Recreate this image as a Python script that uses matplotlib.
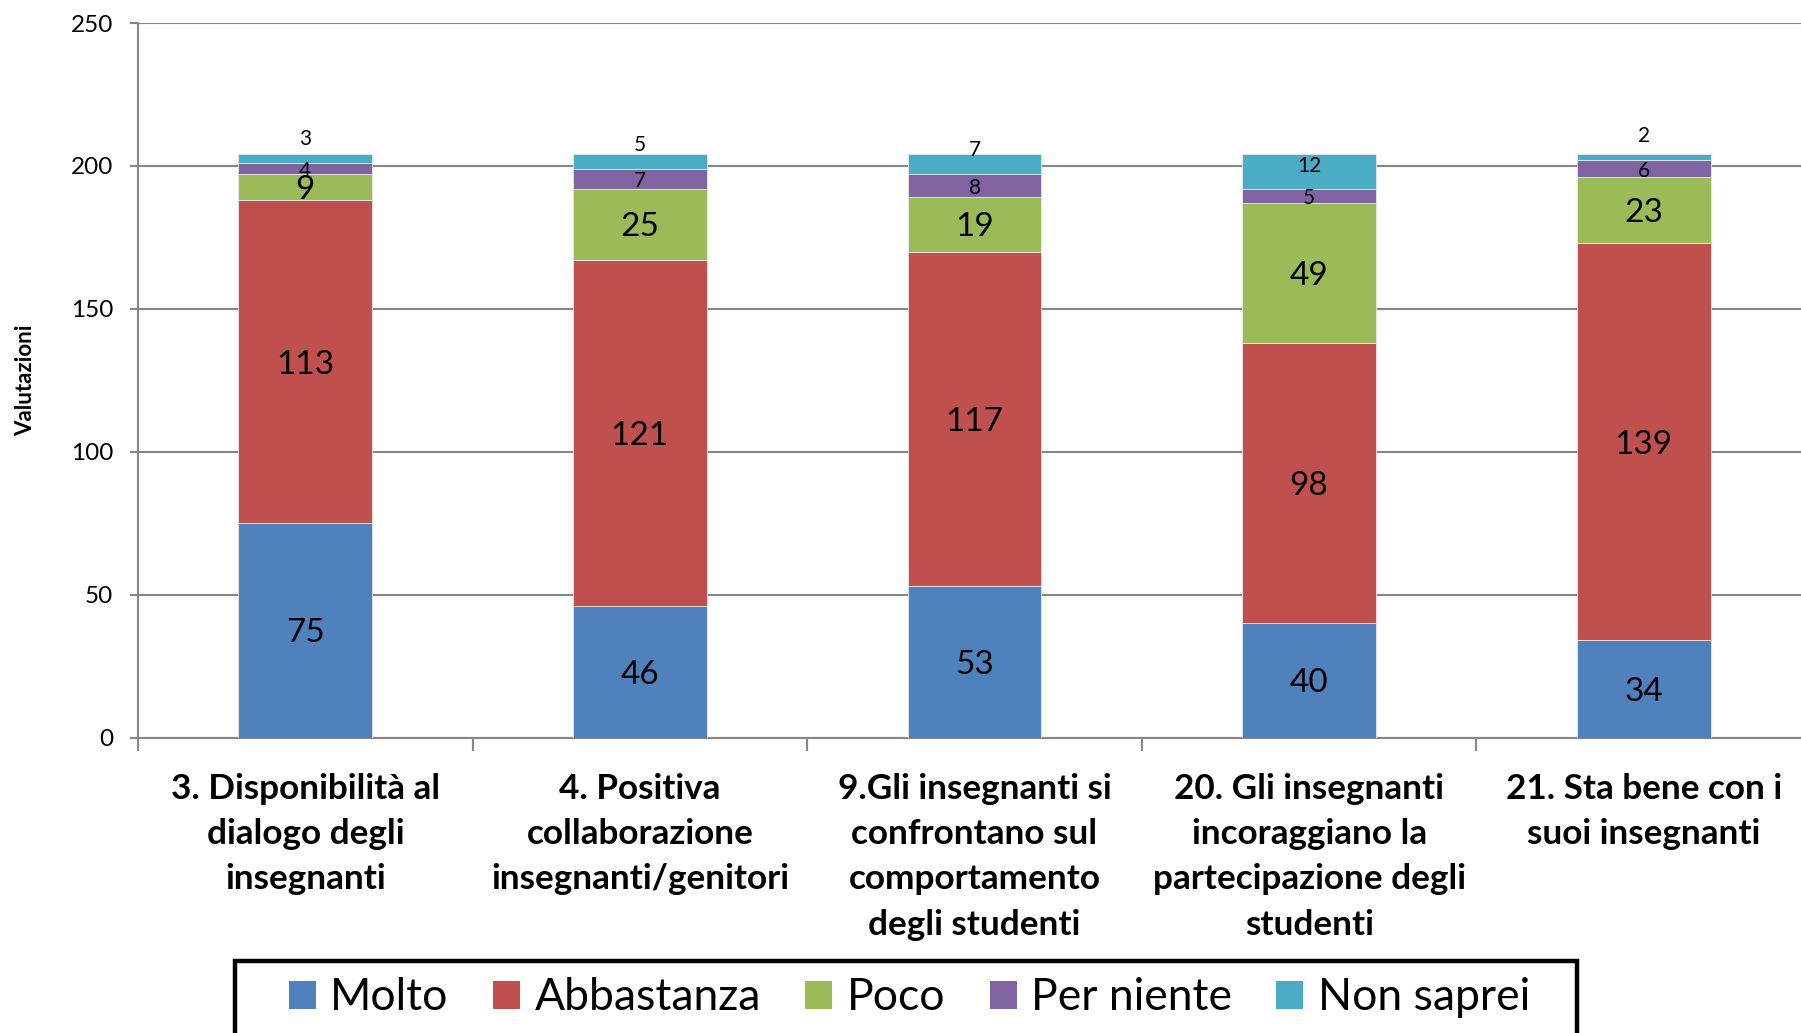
import matplotlib
matplotlib.use('Agg')
import matplotlib.pyplot as plt
from matplotlib.patches import Rectangle, Patch
import numpy as np

categories = [
    '3. Disponibilità al\ndialogo degli\ninsegnanti',
    '4. Positiva\ncollaborazione\ninsegnanti/genitori',
    '9.Gli insegnanti si\nconfrontano sul\ncomportamento\ndegli studenti',
    '20. Gli insegnanti\nincoraggiano la\npartecipazione degli\nstudenti',
    '21. Sta bene con i\nsuoi insegnanti',
]
series_names = ['Molto', 'Abbastanza', 'Poco', 'Per niente', 'Non saprei']
molto      = [75, 46, 53, 40, 34]
abbastanza = [113, 121, 117, 98, 139]
poco       = [9, 25, 19, 49, 23]
per_niente = [4, 7, 8, 5, 6]
non_saprei = [3, 5, 7, 12, 2]
y_ticks = [0, 50, 100, 150, 200, 250]

colors = ['#4F81BD', '#C0504D', '#9BBB59', '#8064A2', '#4BACC6']
label_sizes = [24, 24, 24, 15, 15]
# spostamento verticale (pt) delle etichette "Non saprei", come in Excel
ns_offsets = [15.5, 13.5, 11.5, 5.5, 16.5]

W, H = 1801, 1033
fig = plt.figure(figsize=(W / 100, H / 100), dpi=100)
ax = fig.add_axes([138 / W, 1 - 737.5 / H, 1673 / W, 714.5 / H])

x = np.arange(len(categories))
data = [molto, abbastanza, poco, per_niente, non_saprei]
bottom = np.zeros(len(categories))
for i, vals in enumerate(data):
    vals = np.array(vals)
    ax.bar(x, vals, 0.40, bottom=bottom, color=colors[i],
           edgecolor='#e8e8e8', linewidth=0.6, zorder=3)
    for j in range(len(x)):
        off = ns_offsets[j] if i == 4 else 0
        ax.annotate(str(vals[j]), (x[j], bottom[j] + vals[j] / 2),
                    xytext=(0, off), textcoords='offset points',
                    ha='center', va='center_baseline', fontsize=label_sizes[i],
                    family='Lato', zorder=5)
    bottom = bottom + vals

ax.set_xlim(-0.5, len(categories) - 0.5)
ax.set_ylim(0, 250)
ax.set_yticks(y_ticks)
ax.set_yticklabels([str(t) for t in y_ticks], family='Lato', fontsize=17.5)
ax.yaxis.grid(True, color='#868686', linewidth=1.5, zorder=0)
ax.set_axisbelow(True)

ax.set_xticks(x)
ax.set_xticklabels(categories, family='Lato', fontweight='bold',
                   fontsize=25.3, linespacing=1.51, va='top')
ax.tick_params(axis='x', length=0, pad=25.5)
ax.set_xticks(np.arange(-0.5, len(categories) + 0.5, 1), minor=True)
ax.tick_params(axis='x', which='minor', length=9, width=1.5, color='#868686', direction='out')
ax.tick_params(axis='y', length=6, width=1.5, color='#868686', pad=12)

for s in ['top', 'right']:
    ax.spines[s].set_visible(False)
for s in ['left', 'bottom']:
    ax.spines[s].set_color('#868686')
    ax.spines[s].set_linewidth(1.5)

ax.set_ylabel('Valutazioni', family='Lato', fontweight='bold', fontsize=16)
ax.yaxis.set_label_coords((36 - 138) / 1673, 0.5)

# riquadro della legenda (esce dal bordo inferiore)
fig.patches.append(Rectangle((235 / W, -0.05), (1577 - 235) / W, 1 - 961 / H + 0.05,
                             transform=fig.transFigure, fill=False,
                             edgecolor='black', linewidth=3.2, zorder=10))
handles = [Patch(facecolor=c, edgecolor='none') for c in colors]
fig.legend(handles, series_names, loc='center left',
           bbox_to_anchor=(289 / W, 1 - 998 / H), ncol=5, frameon=False,
           prop={'family': 'Lato', 'size': 32}, borderpad=0, borderaxespad=0,
           handlelength=0.61, handleheight=0.61, handletextpad=0.32,
           columnspacing=1.0)

fig.savefig('out.png', dpi=100)
